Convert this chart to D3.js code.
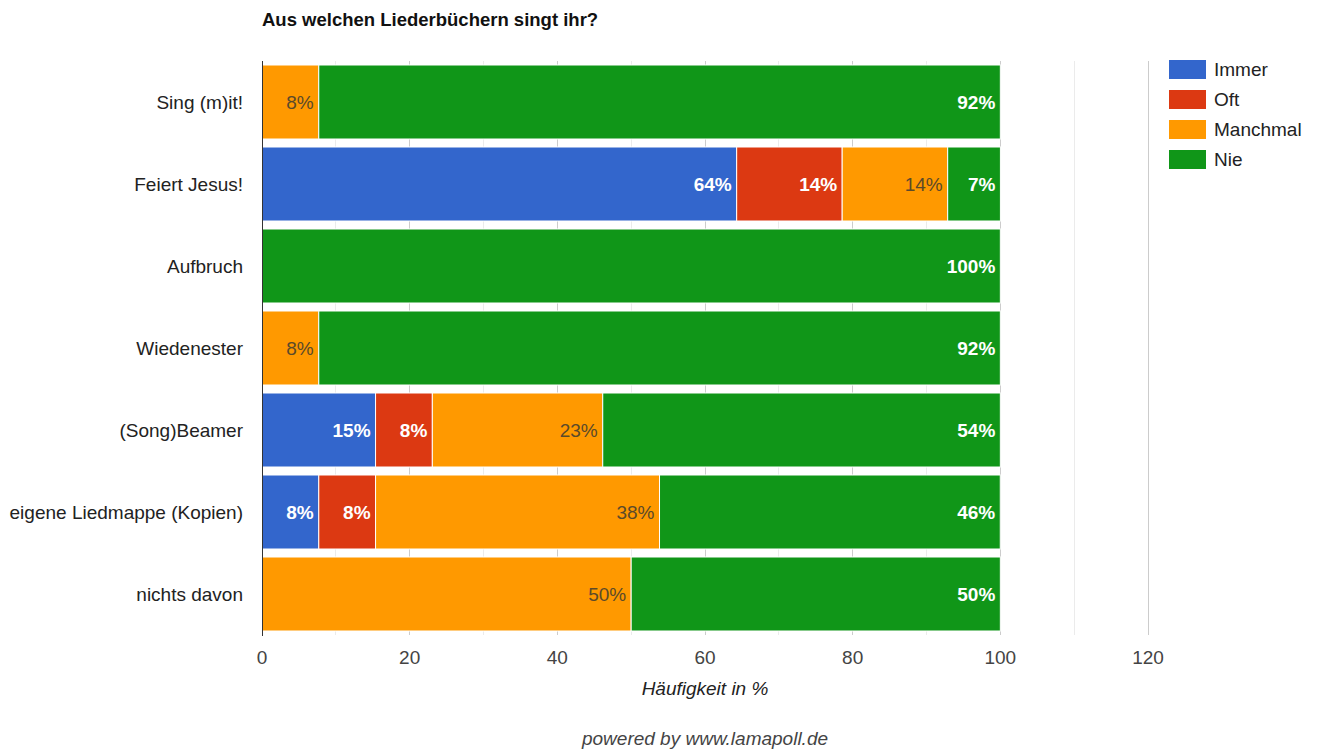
<!DOCTYPE html>
<html><head><meta charset="utf-8">
<script src="https://cdn.jsdelivr.net/npm/d3@7"></script>
<style>body{margin:0;background:#fff;} svg{display:block;font-family:Arial,"Liberation Sans",sans-serif;}</style>
</head><body>
<script>
const categories = ["Sing (m)it!","Feiert Jesus!","Aufbruch","Wiedenester","(Song)Beamer","eigene Liedmappe (Kopien)","nichts davon"];
const seriesNames = ["Immer","Oft","Manchmal","Nie"];
const immer    = [0, 64.29, 0, 0, 15.38, 7.69, 0];
const oft      = [0, 14.29, 0, 0, 7.69, 7.69, 0];
const manchmal = [7.69, 14.29, 0, 7.69, 23.08, 38.46, 50];
const nie      = [92.31, 7.14, 100, 92.31, 53.85, 46.15, 50];
const xTicks = [0,20,40,60,80,100,120];
const colors = ["#3366cc","#dc3912","#ff9900","#109618"];
const labelColors = ["#ffffff","#ffffff","#5b4a2a","#ffffff"];

(function(){
const W=1319,H=749;
const svg=d3.select("body").append("svg").attr("width",W).attr("height",H);
const pl=262,pr=1148,pt=61,pb=635;
const x=d3.scaleLinear().domain([0,120]).range([pl,pr]);
const y=d3.scaleBand().domain(categories).range([pt,pb]).paddingInner(8/82).paddingOuter(4/82);

svg.append("text").attr("x",262).attr("y",26).attr("font-size",18.5).attr("font-weight","bold").attr("fill","#111").text("Aus welchen Liederbüchern singt ihr?");

svg.append("g").selectAll("line").data(d3.range(10,121,10)).join("line")
  .attr("x1",d=>x(d)).attr("x2",d=>x(d)).attr("y1",pt).attr("y2",pb)
  .attr("stroke",d=>d%20===0?"#cccccc":"#ebebeb").attr("stroke-width",1).attr("shape-rendering","crispEdges");

const rows = categories.map((c,i)=>({cat:c, vals:[immer[i],oft[i],manchmal[i],nie[i]]}));
const seg=[];
rows.forEach(r=>{let acc=0; r.vals.forEach((v,k)=>{seg.push({cat:r.cat,k,x0:acc,x1:acc+v,v}); acc+=v;});});

const g=svg.append("g");
g.selectAll("rect").data(seg.filter(s=>s.v>0)).join("rect")
  .attr("x",d=>x(d.x0)).attr("width",d=>x(d.x1)-x(d.x0))
  .attr("y",d=>y(d.cat)).attr("height",y.bandwidth())
  .attr("fill",d=>colors[d.k]).attr("stroke","#ffffff").attr("stroke-width",1);

g.selectAll("text").data(seg.filter(s=>s.v>0)).join("text")
  .attr("x",d=>x(d.x1)-5).attr("y",d=>y(d.cat)+y.bandwidth()/2+7)
  .attr("text-anchor","end").attr("font-size",19)
  .attr("font-weight",d=>d.k===2?"normal":"bold")
  .attr("fill",d=>labelColors[d.k]).text(d=>Math.round(d.v)+"%");

svg.append("line").attr("x1",x(0)).attr("x2",x(0)).attr("y1",pt).attr("y2",pb+1).attr("stroke","#333").attr("stroke-width",1).attr("shape-rendering","crispEdges");

svg.append("g").selectAll("text").data(categories).join("text")
  .attr("x",243).attr("y",d=>y(d)+y.bandwidth()/2+7).attr("text-anchor","end")
  .attr("font-size",19).attr("fill","#222").text(d=>d);

svg.append("g").selectAll("text").data(xTicks).join("text")
  .attr("x",d=>x(d)).attr("y",664).attr("text-anchor","middle").attr("font-size",19).attr("fill","#444").text(d=>d);

svg.append("text").attr("x",(pl+pr)/2).attr("y",695).attr("text-anchor","middle").attr("font-size",19).attr("font-style","italic").attr("fill","#222").text("Häufigkeit in %");

svg.append("text").attr("x",(pl+pr)/2).attr("y",745).attr("text-anchor","middle").attr("font-size",19).attr("font-style","italic").attr("fill","#444").text("powered by www.lamapoll.de");

const lg=svg.append("g").selectAll("g").data(seriesNames).join("g").attr("transform",(d,i)=>`translate(1169,${60+i*30})`);
lg.append("rect").attr("width",37).attr("height",19).attr("fill",(d,i)=>colors[i]);
lg.append("text").attr("x",45).attr("y",16).attr("font-size",19).attr("fill","#222").text(d=>d);
})();
</script>
</body></html>
